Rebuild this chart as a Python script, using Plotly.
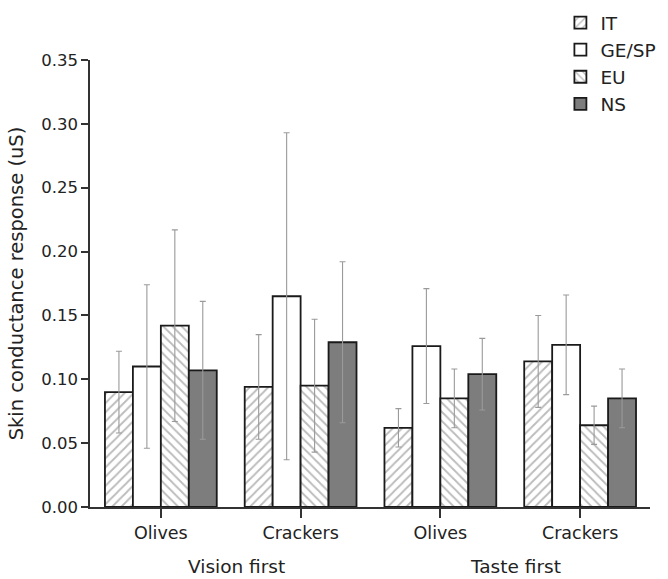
import plotly.graph_objects as go

# Data
categories = ["Olives", "Crackers", "Olives", "Crackers"]
groups = ["Vision first", "Taste first"]
series_names = ["IT", "GE/SP", "EU", "NS"]

it_vals = [0.090, 0.094, 0.062, 0.114]
it_err = [0.032, 0.041, 0.015, 0.036]
gesp_vals = [0.110, 0.165, 0.126, 0.127]
gesp_err = [0.064, 0.128, 0.045, 0.039]
eu_vals = [0.142, 0.095, 0.085, 0.064]
eu_err = [0.075, 0.052, 0.023, 0.015]
ns_vals = [0.107, 0.129, 0.104, 0.085]
ns_err = [0.054, 0.063, 0.028, 0.023]

y_ticks = [0.00, 0.05, 0.10, 0.15, 0.20, 0.25, 0.30, 0.35]

x_pos = list(range(len(categories)))

styles = {
    "IT": dict(color="white", pattern=dict(shape="/", fgcolor="#777777", bgcolor="white", size=6.5, solidity=0.28)),
    "GE/SP": dict(color="white"),
    "EU": dict(color="white", pattern=dict(shape="\\", fgcolor="#777777", bgcolor="white", size=6.5, solidity=0.28)),
    "NS": dict(color="#7d7d7d"),
}
values = {"IT": (it_vals, it_err), "GE/SP": (gesp_vals, gesp_err),
          "EU": (eu_vals, eu_err), "NS": (ns_vals, ns_err)}

fig = go.Figure()
for name in series_names:
    vals, errs = values[name]
    marker = dict(styles[name])
    marker["line"] = dict(color="#1a1a1a", width=1.8)
    fig.add_trace(go.Bar(
        x=x_pos, y=vals, name=name, marker=marker,
        error_y=dict(type="data", array=errs, visible=True,
                     color="#9a9a9a", thickness=1.1, width=3),
    ))

font_family = "DejaVu Sans, Liberation Sans, Arial, sans-serif"

fig.update_layout(
    width=668, height=579,
    margin=dict(l=90, r=18, t=60, b=72, autoexpand=False),
    paper_bgcolor="white", plot_bgcolor="white",
    barmode="group", bargap=0.2, bargroupgap=0,
    font=dict(family=font_family, size=16, color="#222"),
    showlegend=True,
    legend=dict(x=0.84, xanchor="left", y=1.125, yanchor="top",
                font=dict(size=18.5, color="#222"), bgcolor="rgba(0,0,0,0)",
                itemwidth=30, tracegroupgap=0),
    xaxis=dict(
        range=[-0.507, 3.5], tickmode="array", tickvals=x_pos, ticktext=categories,
        showline=True, linecolor="#333", linewidth=1.5,
        ticks="outside", ticklen=9, tickwidth=1.5, tickcolor="#333",
        showgrid=False, zeroline=False, tickfont=dict(size=17.5),
    ),
    yaxis=dict(
        range=[0, 0.35], tickmode="array", tickvals=y_ticks, tickformat=".2f",
        showline=True, linecolor="#333", linewidth=1.5,
        ticks="outside", ticklen=7, tickwidth=1.5, tickcolor="#333",
        showgrid=False, zeroline=False, tickfont=dict(size=16.5),
        title=dict(text="Skin conductance response (uS)", font=dict(size=19.5), standoff=12),
    ),
)

# Group labels under the category labels
for i, g in enumerate(groups):
    fig.add_annotation(x=(x_pos[2 * i] + x_pos[2 * i + 1]) / 2 + 0.04, xref="x",
                       y=-0.1335, yref="paper", text=g, showarrow=False,
                       font=dict(size=18.5, color="#222"), yanchor="middle")

fig.write_html("out.html", config={"displayModeBar": False},
               post_script="document.body.style.margin='0';")
